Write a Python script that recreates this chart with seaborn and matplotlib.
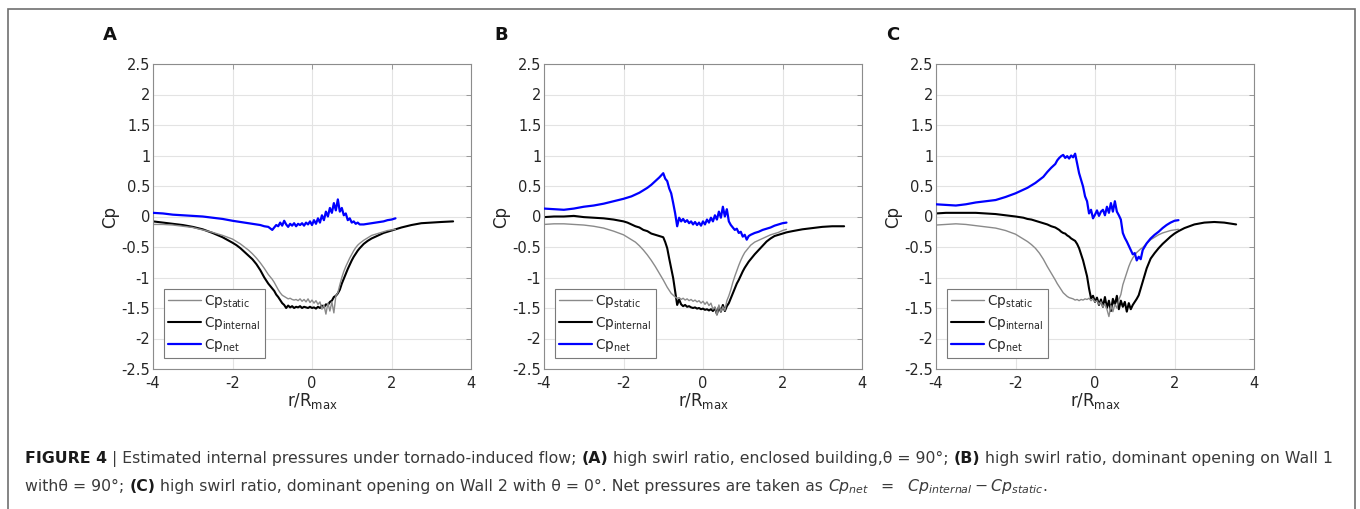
import numpy as np
import pandas as pd
import matplotlib
matplotlib.use('Agg')
import matplotlib.pyplot as plt
import seaborn as sns
from matplotlib.patches import Rectangle
from matplotlib.lines import Line2D

sns.set_theme(style='white')
plt.rcParams['font.family'] = ['DejaVu Sans']
plt.rcParams['mathtext.fontset'] = 'dejavusans'
plt.rcParams['axes.unicode_minus'] = False

# ---------------- data ----------------
X_SHORT = [-4.0, -3.75, -3.5, -3.25, -3.0, -2.75, -2.5, -2.25, -2.0,
           -1.9, -1.8, -1.7, -1.6, -1.5, -1.4, -1.3, -1.2, -1.1, -1.0,
           -0.95, -0.9, -0.85, -0.8, -0.75, -0.7, -0.65, -0.6, -0.55, -0.5, -0.45,
           -0.4, -0.35, -0.3, -0.25, -0.2, -0.15, -0.1, -0.05, 0.0, 0.05, 0.1,
           0.15, 0.2, 0.25, 0.3, 0.35, 0.4, 0.45, 0.5, 0.55, 0.6, 0.65,
           0.7, 0.75, 0.8, 0.85, 0.9, 0.95, 1.0, 1.05, 1.1, 1.15, 1.2,
           1.3, 1.4, 1.5, 1.6, 1.7, 1.8, 1.9, 2.0, 2.1]
X_TAIL = [2.25, 2.5, 2.75, 3.0, 3.25, 3.55]

# Panel A
A_static = [-0.13, -0.13, -0.14, -0.16, -0.18, -0.22, -0.26, -0.31, -0.37,
            -0.41, -0.45, -0.50, -0.55, -0.61, -0.68, -0.76, -0.85, -0.95, -1.03,
            -1.08, -1.14, -1.20, -1.25, -1.29, -1.31, -1.33, -1.35, -1.34, -1.36, -1.37,
            -1.36, -1.38, -1.35, -1.39, -1.36, -1.40, -1.35, -1.41, -1.37, -1.42, -1.38,
            -1.44, -1.40, -1.52, -1.45, -1.60, -1.42, -1.55, -1.40, -1.58, -1.30, -1.25,
            -1.12, -1.00, -0.90, -0.82, -0.75, -0.68, -0.62, -0.56, -0.51, -0.47, -0.44,
            -0.39, -0.35, -0.31, -0.29, -0.27, -0.25, -0.23, -0.22, -0.21]
A_internal = [-0.08, -0.10, -0.12, -0.14, -0.17, -0.21, -0.27, -0.34, -0.43,
              -0.47, -0.52, -0.58, -0.64, -0.70, -0.78, -0.88, -1.00, -1.10, -1.18,
              -1.22, -1.28, -1.32, -1.37, -1.42, -1.45, -1.50, -1.46, -1.49, -1.47, -1.50,
              -1.48, -1.49, -1.47, -1.50, -1.48, -1.49, -1.50, -1.48, -1.50, -1.49, -1.51,
              -1.48, -1.50, -1.46, -1.49, -1.44, -1.45, -1.40, -1.38, -1.32, -1.30, -1.26,
              -1.20, -1.10, -1.02, -0.94, -0.86, -0.79, -0.72, -0.66, -0.61, -0.56, -0.52,
              -0.45, -0.40, -0.36, -0.33, -0.30, -0.27, -0.25, -0.23, -0.21,
              -0.18, -0.14, -0.11, -0.10, -0.09, -0.08]
A_net = [0.06, 0.05, 0.03, 0.02, 0.01, 0.00, -0.02, -0.04, -0.07,
         -0.08, -0.09, -0.10, -0.11, -0.12, -0.13, -0.14, -0.16, -0.17, -0.22,
         -0.18, -0.14, -0.16, -0.10, -0.15, -0.07, -0.13, -0.17, -0.12, -0.15, -0.11,
         -0.16, -0.12, -0.14, -0.11, -0.15, -0.10, -0.13, -0.08, -0.14, -0.06, -0.12,
         -0.03, -0.10, 0.02, -0.06, 0.08, 0.00, 0.14, 0.06, 0.22, 0.10, 0.28,
         0.08, 0.14, 0.02, 0.05, -0.06, -0.03, -0.10, -0.08, -0.12, -0.10, -0.13,
         -0.13, -0.12, -0.11, -0.10, -0.09, -0.08, -0.06, -0.05, -0.03]

# Panel B
B_static = [-0.13, -0.12, -0.12, -0.13, -0.14, -0.16, -0.19, -0.24, -0.30,
            -0.34, -0.38, -0.42, -0.48, -0.55, -0.63, -0.72, -0.82, -0.93, -1.04,
            -1.10, -1.16, -1.21, -1.26, -1.29, -1.32, -1.34, -1.33, -1.36, -1.34, -1.37,
            -1.35, -1.38, -1.36, -1.39, -1.37, -1.40, -1.38, -1.42, -1.39, -1.44, -1.40,
            -1.46, -1.42, -1.52, -1.48, -1.62, -1.45, -1.56, -1.48, -1.54, -1.38, -1.30,
            -1.20, -1.08, -0.98, -0.89, -0.80, -0.72, -0.65, -0.59, -0.55, -0.51, -0.47,
            -0.42, -0.39, -0.36, -0.33, -0.30, -0.28, -0.26, -0.23, -0.21]
B_internal = [-0.01, 0.00, 0.00, 0.01, -0.01, -0.02, -0.03, -0.05, -0.08,
              -0.10, -0.13, -0.16, -0.18, -0.22, -0.24, -0.28, -0.30, -0.32, -0.34,
              -0.42, -0.52, -0.69, -0.85, -1.01, -1.23, -1.45, -1.36, -1.44, -1.47, -1.45,
              -1.48, -1.47, -1.49, -1.50, -1.49, -1.51, -1.50, -1.52, -1.51, -1.53, -1.52,
              -1.54, -1.52, -1.55, -1.50, -1.60, -1.48, -1.56, -1.45, -1.55, -1.47, -1.42,
              -1.34, -1.26, -1.18, -1.10, -1.04, -0.97, -0.90, -0.84, -0.79, -0.74, -0.70,
              -0.62, -0.55, -0.48, -0.41, -0.36, -0.32, -0.30, -0.28, -0.26,
              -0.24, -0.21, -0.19, -0.17, -0.16, -0.16]
B_net = [0.13, 0.12, 0.11, 0.13, 0.16, 0.18, 0.21, 0.25, 0.29,
         0.31, 0.33, 0.36, 0.39, 0.43, 0.47, 0.52, 0.58, 0.64, 0.71,
         0.62, 0.58, 0.46, 0.38, 0.22, 0.05, -0.16, -0.02, -0.08, -0.04, -0.09,
         -0.06, -0.11, -0.08, -0.13, -0.09, -0.14, -0.10, -0.15, -0.08, -0.13, -0.05,
         -0.10, -0.02, -0.08, 0.02, -0.05, 0.08, -0.02, 0.16, 0.00, 0.12, -0.08,
         -0.14, -0.18, -0.22, -0.20, -0.27, -0.25, -0.33, -0.30, -0.38, -0.32, -0.30,
         -0.27, -0.25, -0.22, -0.20, -0.18, -0.15, -0.13, -0.11, -0.10]

# Panel C
C_static = [-0.14, -0.13, -0.12, -0.13, -0.15, -0.17, -0.19, -0.23, -0.29,
            -0.33, -0.37, -0.41, -0.46, -0.52, -0.60, -0.70, -0.82, -0.93, -1.04,
            -1.10, -1.15, -1.20, -1.25, -1.28, -1.31, -1.33, -1.34, -1.35, -1.37, -1.36,
            -1.38, -1.36, -1.37, -1.35, -1.36, -1.34, -1.38, -1.35, -1.40, -1.38, -1.44,
            -1.40, -1.48, -1.43, -1.52, -1.64, -1.46, -1.56, -1.44, -1.50, -1.36, -1.28,
            -1.12, -1.02, -0.92, -0.82, -0.74, -0.68, -0.63, -0.59, -0.56, -0.53, -0.51,
            -0.44, -0.38, -0.34, -0.30, -0.27, -0.25, -0.23, -0.22, -0.21]
C_internal = [0.05, 0.06, 0.06, 0.06, 0.06, 0.05, 0.04, 0.02, 0.00,
              -0.01, -0.02, -0.04, -0.05, -0.07, -0.09, -0.11, -0.13, -0.16, -0.18,
              -0.20, -0.22, -0.25, -0.27, -0.28, -0.31, -0.33, -0.36, -0.38, -0.40, -0.45,
              -0.52, -0.62, -0.72, -0.85, -0.98, -1.18, -1.34, -1.30, -1.40, -1.33, -1.45,
              -1.36, -1.48, -1.32, -1.50, -1.38, -1.55, -1.35, -1.45, -1.30, -1.52, -1.38,
              -1.48, -1.40, -1.56, -1.42, -1.52, -1.45, -1.40, -1.35, -1.29, -1.18, -1.07,
              -0.85, -0.69, -0.60, -0.52, -0.45, -0.39, -0.33, -0.28, -0.24,
              -0.19, -0.13, -0.10, -0.09, -0.10, -0.13]
C_net = [0.20, 0.19, 0.18, 0.20, 0.23, 0.25, 0.27, 0.32, 0.38,
         0.41, 0.44, 0.47, 0.51, 0.55, 0.60, 0.65, 0.73, 0.80, 0.86,
         0.92, 0.96, 0.99, 1.01, 0.96, 0.99, 0.95, 1.00, 0.97, 1.03, 0.87,
         0.71, 0.60, 0.49, 0.33, 0.25, 0.05, 0.11, -0.03, 0.03, 0.10, 0.01,
         0.08, 0.11, 0.02, 0.16, 0.06, 0.22, 0.08, 0.25, 0.08, 0.02, -0.05,
         -0.27, -0.35, -0.41, -0.48, -0.55, -0.62, -0.60, -0.72, -0.66, -0.70, -0.55,
         -0.44, -0.36, -0.30, -0.25, -0.19, -0.14, -0.10, -0.07, -0.06]

PANEL_LABELS = ['A', 'B', 'C']
SERIES_LABELS = [r'Cp$_{\mathrm{static}}$', r'Cp$_{\mathrm{internal}}$', r'Cp$_{\mathrm{net}}$']
X_TICKS = [-4, -2, 0, 2, 4]
Y_TICKS = [-2.5, -2, -1.5, -1, -0.5, 0, 0.5, 1, 1.5, 2, 2.5]
X_LABEL = r'r/R$_{\mathrm{max}}$'
Y_LABEL = 'Cp'

PANEL_DATA = [(A_static, A_internal, A_net),
              (B_static, B_internal, B_net),
              (C_static, C_internal, C_net)]

# ---------------- figure ----------------
W, H = 1360, 509
fig = plt.figure(figsize=(W / 100, H / 100), dpi=100)
fig.patch.set_facecolor('white')

AX_LEFTS = [153, 544, 936]
AX_W = 318
AX_TOP, AX_BOT = 64, 369

STATIC_C = '#8a8a8a'
INTERNAL_C = '#000000'
NET_C = '#0000ff'
FRAME_C = '#8c8c8c'
TXT_C = '#262626'

for i, (lab, (st, it, nt)) in enumerate(zip(PANEL_LABELS, PANEL_DATA)):
    ax = fig.add_axes([AX_LEFTS[i] / W, 1 - AX_BOT / H, AX_W / W, (AX_BOT - AX_TOP) / H])
    df_st = pd.DataFrame({'r': X_SHORT, 'Cp': st})
    df_it = pd.DataFrame({'r': X_SHORT + X_TAIL, 'Cp': it})
    df_nt = pd.DataFrame({'r': X_SHORT, 'Cp': nt})
    sns.lineplot(data=df_it, x='r', y='Cp', ax=ax, color=INTERNAL_C, lw=1.5,
                 sort=False, estimator=None, zorder=2)
    sns.lineplot(data=df_st, x='r', y='Cp', ax=ax, color=STATIC_C, lw=1.0,
                 sort=False, estimator=None, zorder=3)
    sns.lineplot(data=df_nt, x='r', y='Cp', ax=ax, color=NET_C, lw=1.6,
                 sort=False, estimator=None, zorder=4)
    ax.set_xlim(-4, 4)
    ax.set_ylim(-2.5, 2.5)
    ax.set_xticks(X_TICKS)
    ax.set_yticks(Y_TICKS)
    ax.set_xticklabels([f'{v:g}' for v in X_TICKS])
    ax.set_yticklabels([f'{v:g}' for v in Y_TICKS])
    ax.grid(True, color='#e3e3e3', lw=0.8)
    ax.set_axisbelow(True)
    for s in ax.spines.values():
        s.set_color(FRAME_C)
        s.set_linewidth(0.8)
    ax.tick_params(axis='both', direction='in', length=3.5, width=0.6,
                   color=FRAME_C, labelcolor=TXT_C, labelsize=10.5,
                   top=True, right=True)
    ax.tick_params(axis='y', pad=2)
    ax.tick_params(axis='x', pad=5)
    ax.set_xlabel(X_LABEL, fontsize=12, color=TXT_C, labelpad=0)
    ax.set_ylabel(Y_LABEL, fontsize=12, color=TXT_C, labelpad=2)
    handles = [Line2D([], [], color=STATIC_C, lw=1.0),
               Line2D([], [], color=INTERNAL_C, lw=1.5),
               Line2D([], [], color=NET_C, lw=1.6)]
    leg = ax.legend(handles, SERIES_LABELS, loc='lower left',
                    bbox_to_anchor=(0.035, 0.036), borderaxespad=0,
                    fontsize=9.8, frameon=True, fancybox=False,
                    edgecolor='#7a7a7a', framealpha=1, handlelength=2.4,
                    handletextpad=0.25, labelspacing=0.38, borderpad=0.3)
    leg.get_frame().set_linewidth(0.8)
    for t in leg.get_texts():
        t.set_color(TXT_C)
    fig.text((AX_LEFTS[i] - 50) / W, 1 - 35 / H, lab, fontsize=13, fontweight='bold',
             color='#111111', ha='left', va='center')

# outer frame
fig.add_artist(Rectangle((8 / W, -0.05), (1355 - 8) / W, 1.05 - 9 / H,
                         transform=fig.transFigure, fill=False,
                         edgecolor='#6f6f6f', lw=1.2, clip_on=False))

# ---------------- caption ----------------
CAP_FS = 11.3
CAP_C = '#3a3a3a'
renderer = fig.canvas.get_renderer()


def piece_width(s, style):
    kw = dict(fontsize=CAP_FS)
    if style == 'b':
        kw['fontweight'] = 'bold'
    t1 = fig.text(0, 0, '|' + s + '|', **kw)
    t2 = fig.text(0, 0, '||', **kw)
    w = t1.get_window_extent(renderer).width - t2.get_window_extent(renderer).width
    t1.remove()
    t2.remove()
    return w


def caption_line(pieces, x0, y0):
    x = x0
    for s, style in pieces:
        kw = dict(fontsize=CAP_FS, color=CAP_C, ha='left', va='baseline')
        if style == 'b':
            kw['fontweight'] = 'bold'
            kw['color'] = '#1a1a1a'
        fig.text(x / W, 1 - y0 / H, s, **kw)
        x += piece_width(s, style)
    return x


line1 = [('FIGURE 4', 'b'), (' | Estimated internal pressures under tornado-induced flow; ', 'n'),
         ('(A)', 'b'), (' high swirl ratio, enclosed building,\u03b8 = 90\u00b0; ', 'n'),
         ('(B)', 'b'), (' high swirl ratio, dominant opening on Wall 1', 'n')]
line2 = [('with\u03b8 = 90\u00b0; ', 'n'), ('(C)', 'b'),
         (' high swirl ratio, dominant opening on Wall 2 with \u03b8 = 0\u00b0. Net pressures are taken as ', 'n'),
         (r'$Cp_{net}\ \ =\ \ Cp_{internal} - Cp_{static}$', 'n'), ('.', 'n')]
end1 = caption_line(line1, 25, 463)
end2 = caption_line(line2, 25, 491)

fig.savefig('out.png', dpi=100, facecolor='white')
